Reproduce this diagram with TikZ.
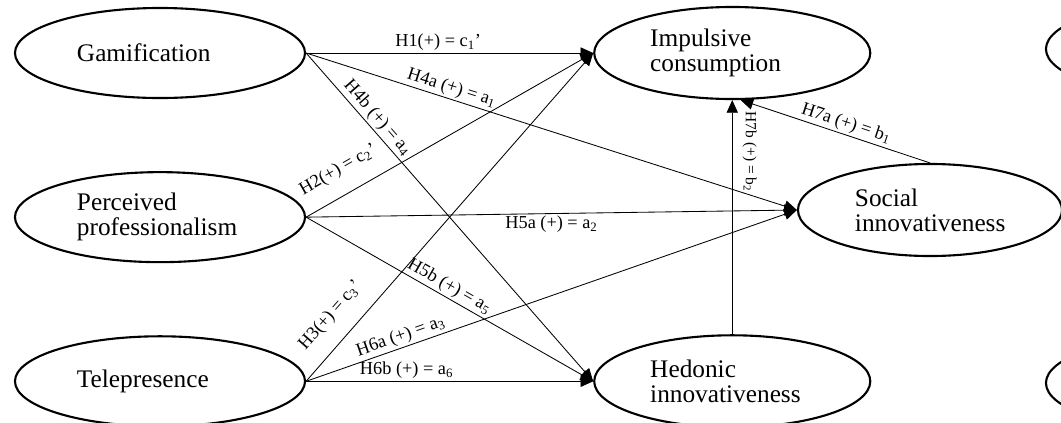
\documentclass[tikz,border=0pt]{standalone}
\usepackage{fontspec}
\setmainfont{Liberation Serif}
\usetikzlibrary{positioning,shapes.geometric,arrows.meta}

\begin{document}
\begin{tikzpicture}[
    x=0.025cm, y=-0.025cm,
    latent/.style={
        ellipse,
        draw,
        line width=1.5pt,
        minimum width=7.25cm,
        minimum height=2.25cm,
        inner sep=0pt,
        text width=4.15cm,
        align=left,
        font=\fontsize{18}{18}\selectfont
    },
    outcome/.style={
        latent,
        minimum width=6.9cm,
        minimum height=2.3cm,
        text width=4.1cm
    },
    arrow/.style={-{Triangle[length=9pt,width=8pt]}, line width=0.6pt},
    hyp/.style={font=\fontsize{13}{14}\selectfont, inner sep=1.5pt}
]

\useasboundingbox (0,0) rectangle (1061,422);
\clip (0,0) rectangle (1061,422);

\node[latent] (gam) at (160,53) {Gamification};
\node[latent, below=1.8cm of gam] (prof) {Perceived\\professionalism};
\node[latent, below=1.8cm of prof] (tele) {Telepresence};

\node[outcome, right=7.175cm of gam] (imp) {Impulsive\\consumption};
\node[outcome, right=7.175cm of tele] (hed) {Hedonic\\innovativeness};
\node[outcome, minimum width=6.6cm, text width=3.75cm] (soc) at (930,210) {Social\\innovativeness};

\node[outcome] (cuttop) at (1184,49) {};
\node[outcome] (cutbot) at (1184,383) {};

\draw[arrow] (gam.east) -- node[hyp, above, pos=0.46] {H1(+) = c\textsubscript{1}'} (imp.west);
\draw[arrow] (gam.east) -- node[hyp, above, sloped, pos=0.29] {H4a (+) = a\textsubscript{1}} (soc.west);
\draw[arrow] (gam.east) -- node[hyp, above, sloped, pos=0.22] {H4b (+) = a\textsubscript{4}} (hed.west);

\draw[arrow] (prof.east) -- node[hyp, above=10pt, sloped, pos=0.155] {H2(+) = c\textsubscript{2}'} (imp.west);
\draw[arrow] (prof.east) -- node[hyp, below, pos=0.5] {H5a (+) = a\textsubscript{2}} (soc.west);
\draw[arrow] (prof.east) -- node[hyp, above, sloped, pos=0.48] {H5b (+) = a\textsubscript{5}} (hed.west);

\draw[arrow] (tele.east) -- node[hyp, above=10pt, sloped, pos=0.15] {H3(+) = c\textsubscript{3}'} (imp.west);
\draw[arrow] (tele.east) -- node[hyp, above, sloped, pos=0.2] {H6a (+) = a\textsubscript{3}} (soc.west);
\draw[arrow] (tele.east) -- node[hyp, above, pos=0.35] {H6b (+) = a\textsubscript{6}} (hed.west);

\draw[arrow] (soc.north) -- node[hyp, above, sloped, pos=0.46] {H7a (+) = b\textsubscript{1}} (imp.-80);
\draw[arrow] (hed.north) -- node[hyp, font=\fontsize{11}{12}\selectfont, rotate=-90, anchor=south, inner sep=7pt, pos=0.78] {H7b (+) = b\textsubscript{2}} (imp.south);

\end{tikzpicture}
\end{document}
